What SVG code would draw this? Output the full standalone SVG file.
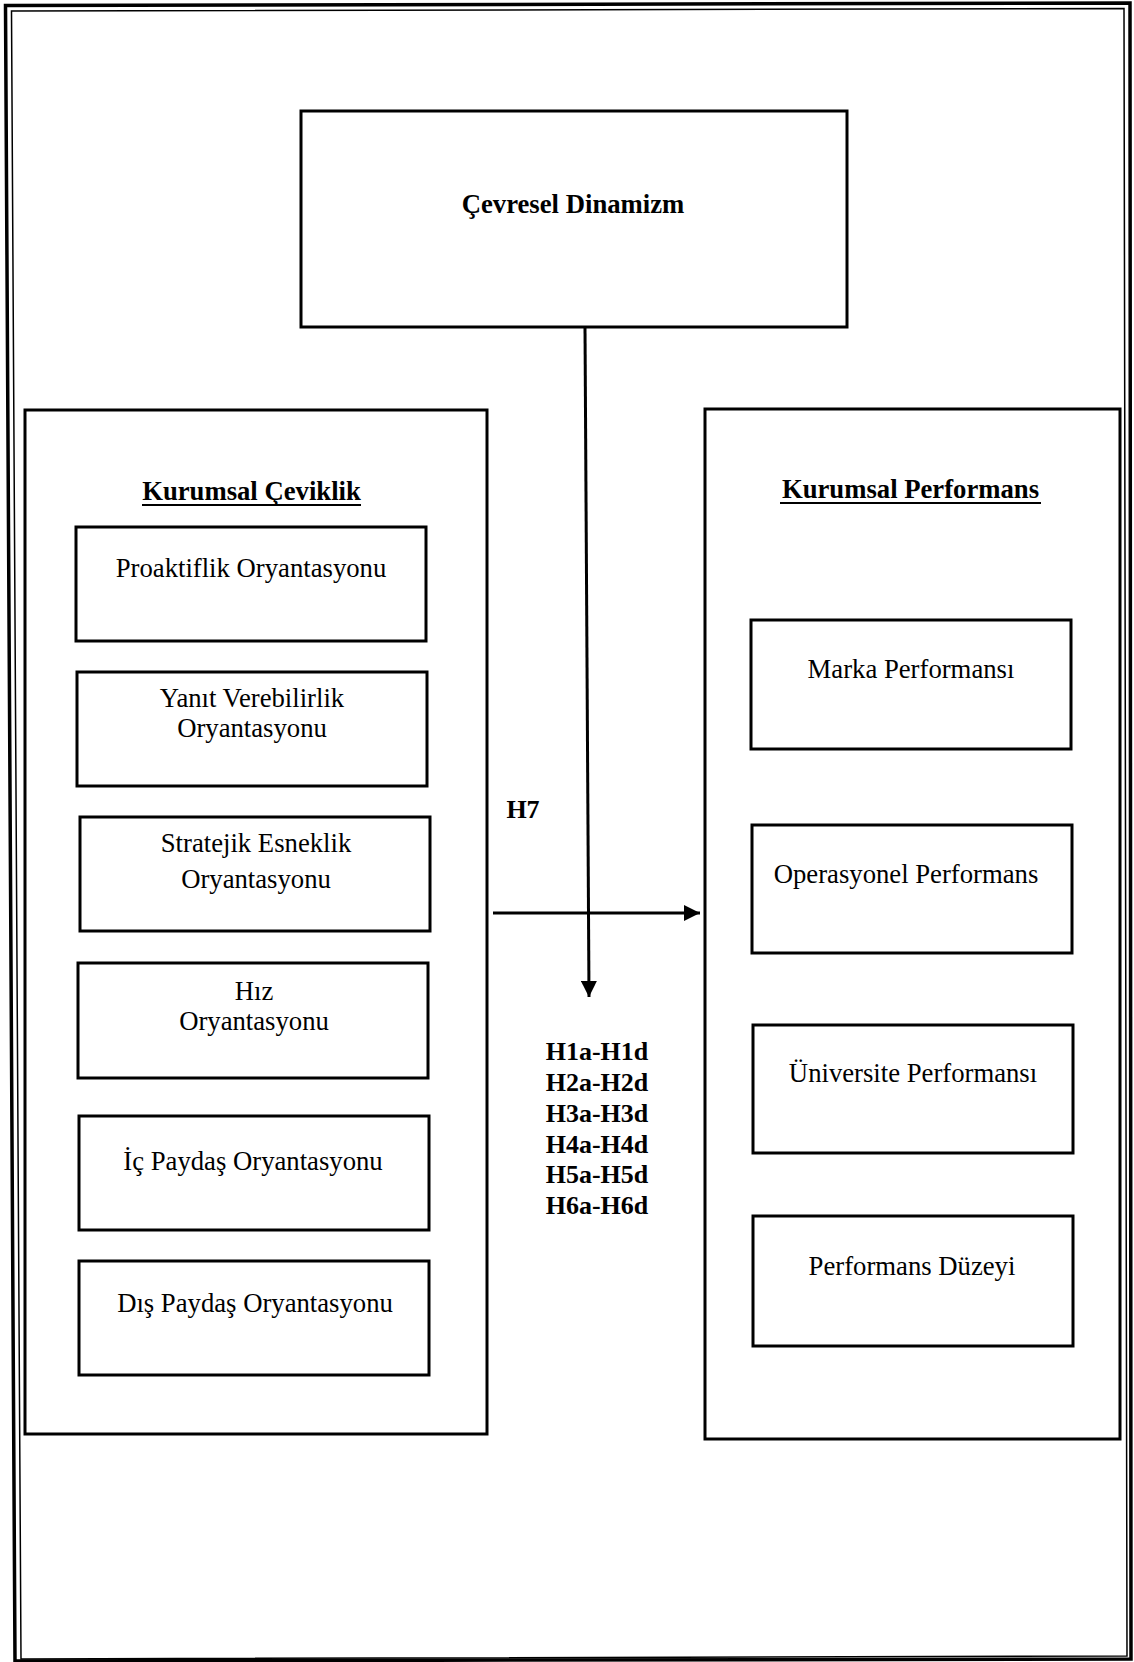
<svg xmlns="http://www.w3.org/2000/svg" width="1134" height="1662" viewBox="0 0 1134 1662">
<defs>
<style>
.box{fill:none;stroke:#000;stroke-width:3}
.t{font-family:"Liberation Serif","Times New Roman",serif;font-size:26.7px;fill:#000;text-anchor:middle}
.b{font-weight:bold}
.h{font-size:26px}
.conn{stroke:#000;stroke-width:3;fill:none}
</style>
<marker id="ah" viewBox="0 0 16 16" refX="16" refY="8" markerWidth="16" markerHeight="16" markerUnits="userSpaceOnUse" orient="auto">
<path d="M0,0 L16,8 L0,16 Z" fill="#000"/>
</marker>
</defs>
<rect width="1134" height="1662" fill="#fff"/>
<g id="frame">
<polygon points="5.5,5.5 1130,3 1131,1659 15,1661" fill="none" stroke="#000" stroke-width="3.5"/>
<polygon points="11.5,11 1124,8.5 1127,1656 21,1659" fill="none" stroke="#000" stroke-width="1.5"/>
</g>
<g id="cevresel-dinamizm">
<rect class="box" x="301" y="111" width="546" height="216"/>
<text class="t b" x="573" y="213">Çevresel Dinamizm</text>
</g>
<g id="kurumsal-ceviklik">
<rect class="box" x="25" y="410" width="462" height="1024"/>
<text class="t b" x="251.5" y="500">Kurumsal Çeviklik</text>
<line x1="142" y1="505" x2="361" y2="505" stroke="#000" stroke-width="2"/>
</g>
<g id="proaktiflik">
<rect class="box" x="76" y="527" width="350" height="114"/>
<text class="t" x="251" y="577">Proaktiflik Oryantasyonu</text>
</g>
<g id="yanit">
<rect class="box" x="77" y="672" width="350" height="114"/>
<text class="t" x="252" y="707">Yanıt Verebilirlik</text>
<text class="t" x="252" y="737">Oryantasyonu</text>
</g>
<g id="stratejik">
<rect class="box" x="80" y="817" width="350" height="114"/>
<text class="t" x="256" y="852">Stratejik Esneklik</text>
<text class="t" x="256" y="888">Oryantasyonu</text>
</g>
<g id="hiz">
<rect class="box" x="78" y="963" width="350" height="115"/>
<text class="t" x="254" y="1000">Hız</text>
<text class="t" x="254" y="1030">Oryantasyonu</text>
</g>
<g id="ic-paydas">
<rect class="box" x="79" y="1116" width="350" height="114"/>
<text class="t" x="253" y="1170">İç Paydaş Oryantasyonu</text>
</g>
<g id="dis-paydas">
<rect class="box" x="79" y="1261" width="350" height="114"/>
<text class="t" x="255" y="1312">Dış Paydaş Oryantasyonu</text>
</g>
<g id="kurumsal-performans">
<rect class="box" x="705" y="409" width="415" height="1030"/>
<text class="t b" x="910.5" y="498">Kurumsal Performans</text>
<line x1="780" y1="503" x2="1041" y2="503" stroke="#000" stroke-width="2"/>
</g>
<g id="marka">
<rect class="box" x="751" y="620" width="320" height="129"/>
<text class="t" x="911" y="678">Marka Performansı</text>
</g>
<g id="operasyonel">
<rect class="box" x="752" y="825" width="320" height="128"/>
<text class="t" x="906" y="883">Operasyonel Performans</text>
</g>
<g id="universite">
<rect class="box" x="753" y="1025" width="320" height="128"/>
<text class="t" x="913" y="1082">Üniversite Performansı</text>
</g>
<g id="performans-duzeyi">
<rect class="box" x="753" y="1216" width="320" height="130"/>
<text class="t" x="912" y="1275">Performans Düzeyi</text>
</g>
<g id="connectors">
<line class="conn" x1="585" y1="328" x2="589" y2="997" marker-end="url(#ah)"/>
<line class="conn" x1="493" y1="913" x2="700" y2="913" marker-end="url(#ah)"/>
</g>
<g id="labels">
<text class="t b h" x="523" y="818">H7</text>
<text class="t b h" x="597" y="1060">H1a-H1d</text>
<text class="t b h" x="597" y="1091">H2a-H2d</text>
<text class="t b h" x="597" y="1122">H3a-H3d</text>
<text class="t b h" x="597" y="1153">H4a-H4d</text>
<text class="t b h" x="597" y="1183">H5a-H5d</text>
<text class="t b h" x="597" y="1214">H6a-H6d</text>
</g>
</svg>
